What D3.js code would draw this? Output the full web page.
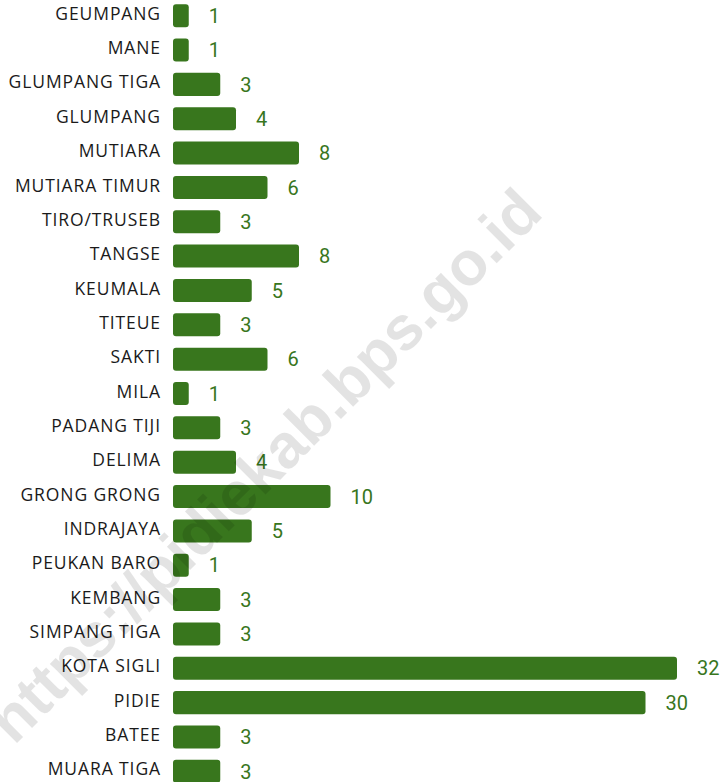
<!DOCTYPE html>
<html>
<head>
<meta charset="utf-8">
<script src="https://cdn.jsdelivr.net/npm/d3@7"></script>
<style>
  body { margin: 0; background: #fff; }
  svg { display: block; }
</style>
</head>
<body>
<div id="chart"></div>
<script>
var kecamatan = ["GEUMPANG", "MANE", "GLUMPANG TIGA", "GLUMPANG", "MUTIARA", "MUTIARA TIMUR",
    "TIRO/TRUSEB", "TANGSE", "KEUMALA", "TITEUE", "SAKTI", "MILA", "PADANG TIJI", "DELIMA",
    "GRONG GRONG", "INDRAJAYA", "PEUKAN BARO", "KEMBANG", "SIMPANG TIGA", "KOTA SIGLI",
    "PIDIE", "BATEE", "MUARA TIGA"];
var jumlah = [1, 1, 3, 4, 8, 6, 3, 8, 5, 3, 6, 1, 3, 4, 10, 5, 1, 3, 3, 32, 30, 3, 3];
var watermark = "https://pidiekab.bps.go.id";

var width = 725, height = 782;
var green = "#38761d";

var svg = d3.select("#chart").append("svg")
    .attr("width", width)
    .attr("height", height);

var x = d3.scaleLinear().domain([0, 32]).range([173, 677]);
var y = d3.scaleBand().domain(kecamatan).range([-1.5, 788.5]).paddingInner(0.33).paddingOuter(0.165);

var data = kecamatan.map(function (k, i) { return { name: k, value: jumlah[i] }; });

svg.append("g")
    .selectAll("rect")
    .data(data)
    .enter()
    .append("rect")
    .attr("x", x(0))
    .attr("y", function (d) { return y(d.name); })
    .attr("width", function (d) { return x(d.value) - x(0); })
    .attr("height", y.bandwidth())
    .attr("rx", 3)
    .attr("fill", green);

// category labels
svg.append("g")
    .selectAll("text")
    .data(data)
    .enter()
    .append("text")
    .attr("x", 161)
    .attr("y", function (d) { return y(d.name) + y.bandwidth() / 2 - 2; })
    .attr("dy", "0.35em")
    .attr("text-anchor", "end")
    .style("font-family", "'Open Sans', sans-serif")
    .style("font-size", "17.5px")
    .style("letter-spacing", "0.9px")
    .attr("fill", "#1a1a1a")
    .text(function (d) { return d.name; });

// value labels
svg.append("g")
    .selectAll("text")
    .data(data)
    .enter()
    .append("text")
    .attr("x", function (d) { return x(d.value) + 20; })
    .attr("y", function (d) { return y(d.name) + y.bandwidth() / 2; })
    .attr("dy", "0.36em")
    .style("font-family", "Roboto, sans-serif")
    .style("font-size", "20px")
    .attr("fill", green)
    .text(function (d) { return d.value; });

// watermark
svg.append("text")
    .attr("transform", "translate(14,746) rotate(-45)")
    .style("font-family", "'Liberation Sans', Arial, sans-serif")
    .style("font-weight", "bold")
    .style("font-size", "62px")
    .attr("fill", "#000")
    .attr("fill-opacity", 0.11)
    .text(watermark);
</script>
</body>
</html>
